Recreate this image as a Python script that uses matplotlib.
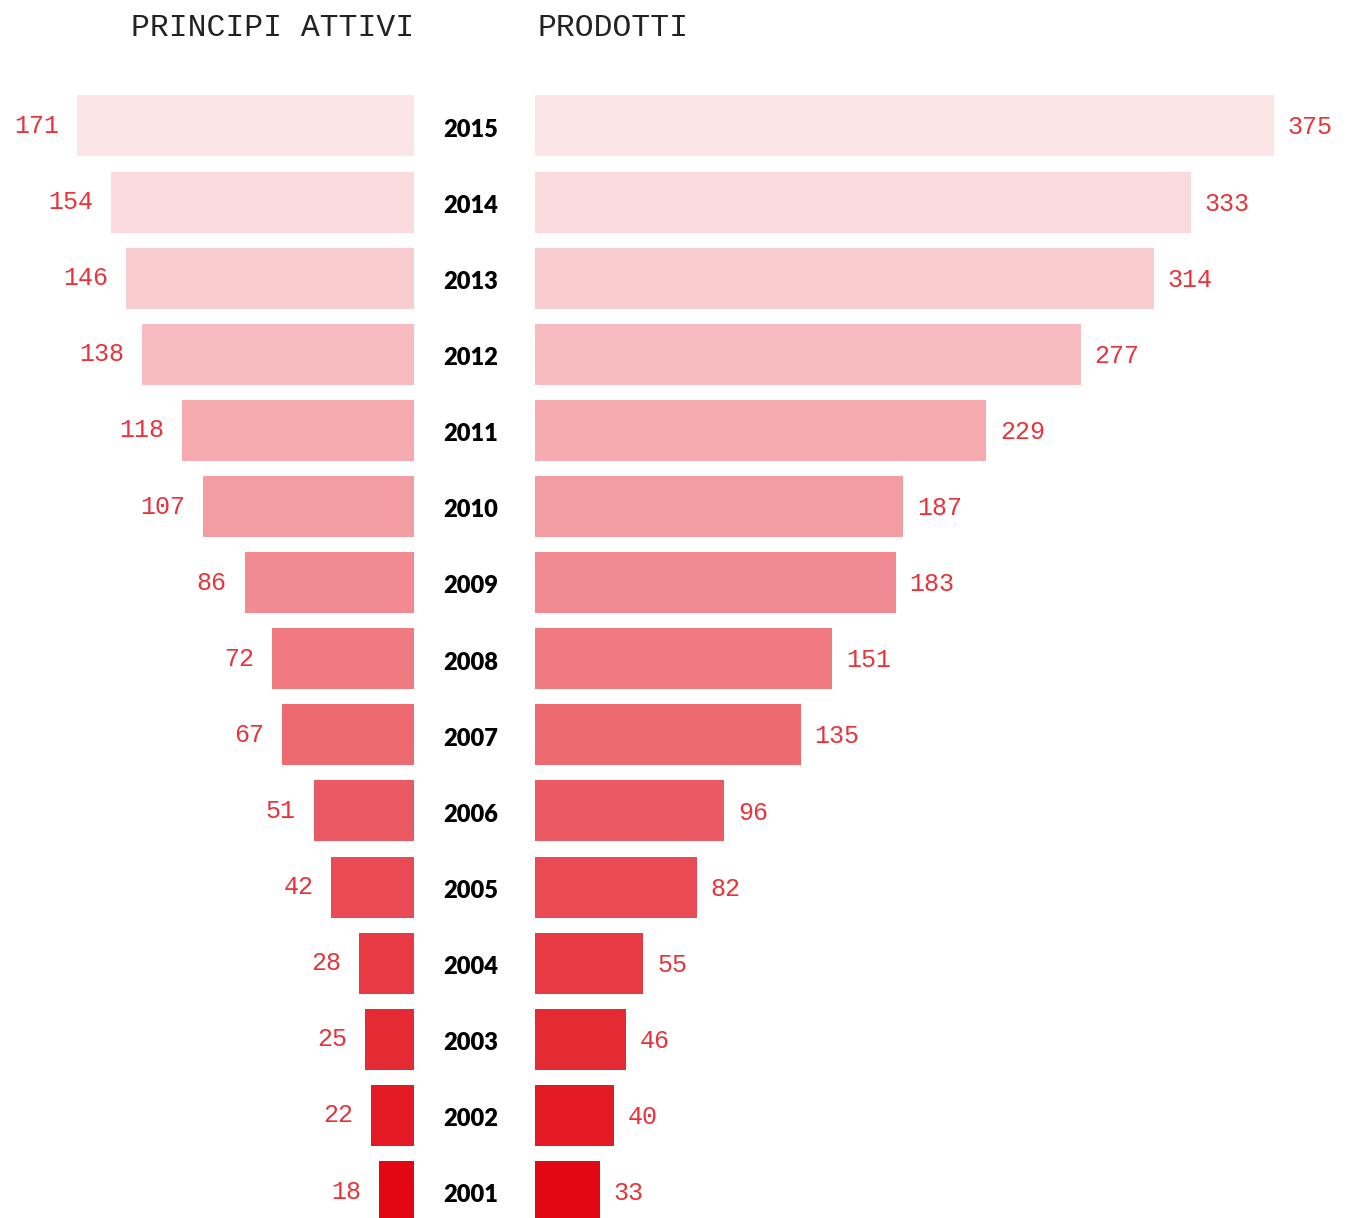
import matplotlib.pyplot as plt
from matplotlib.transforms import blended_transform_factory

# ==========================================================
# Data: principi attivi / prodotti per anno
# ==========================================================

years = [2015, 2014, 2013, 2012, 2011, 2010, 2009, 2008,
         2007, 2006, 2005, 2004, 2003, 2002, 2001]
principi_attivi = [171, 154, 146, 138, 118, 107, 86, 72,
                   67, 51, 42, 28, 25, 22, 18]
prodotti = [375, 333, 314, 277, 229, 187, 183, 151,
            135, 96, 82, 55, 46, 40, 33]

bar_colors = ["#fce5e7", "#fadadc", "#f9cdd0", "#f7bbc0", "#f6abb0",
              "#f39ca1", "#f18b91", "#ef7a80", "#ed6a71", "#eb5a62",
              "#e94a53", "#e73a43", "#e52a34", "#e31a24", "#e30613"]

label_red = "#e8333b"
mono = "Liberation Mono"

# ==========================================================
# Figure layout (pixel based, 1352 x 1218)
# ==========================================================

W, H = 1352, 1218
fig = plt.figure(figsize=(W / 100, H / 100), dpi=100)

px_per_unit = 1.97
row_pitch = 76.12
top_px = 95.4 - (row_pitch - 61) / 2
ax_h = (H - top_px) / H
n_rows = (H - top_px) / row_pitch

ax_l = fig.add_axes([0, 0, 414 / W, ax_h])
ax_r = fig.add_axes([535 / W, 0, (W - 535) / W, ax_h])

for ax in (ax_l, ax_r):
    ax.set_ylim(-0.5 + n_rows, -0.5)
    ax.axis("off")

ax_l.set_xlim(414 / px_per_unit, 0)
ax_r.set_xlim(0, (W - 535) / px_per_unit)

ypos = list(range(len(years)))
bar_h = 61 / row_pitch

ax_l.barh(ypos, principi_attivi, height=bar_h, color=bar_colors)
ax_r.barh(ypos, prodotti, height=bar_h, color=bar_colors)

for i, v in enumerate(principi_attivi):
    ax_l.text(v + 9, i, str(v), ha="right", va="center",
              fontsize=18, color=label_red, family=mono)

for i, v in enumerate(prodotti):
    ax_r.text(v + 7, i + 0.02, str(v), ha="left", va="center",
              fontsize=18, color=label_red, family=mono)

# year labels in the middle column
trans = blended_transform_factory(fig.transFigure, ax_l.transData)
for i, y in enumerate(years):
    fig.text(471 / W, i + 0.05, str(y), transform=trans, ha="center",
             va="center", fontsize=17, fontweight="heavy",
             family="Lato", color="black")

# column titles
fig.text(414 / W, 1 - 28 / H, "PRINCIPI ATTIVI", ha="right", va="center",
         fontsize=22.6, family=mono, color="#222222")
fig.text(537 / W, 1 - 28 / H, "PRODOTTI", ha="left", va="center",
         fontsize=22.6, family=mono, color="#222222")

fig.savefig("out.png", dpi=100)
